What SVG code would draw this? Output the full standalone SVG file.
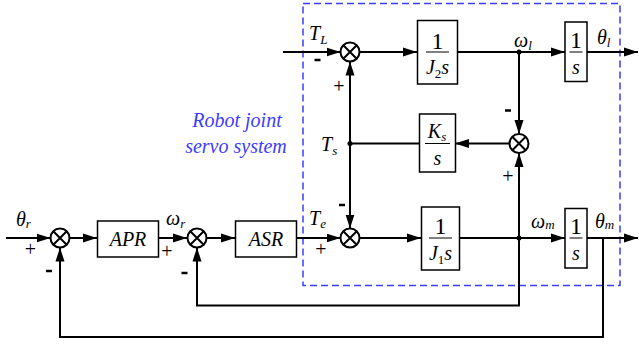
<svg xmlns="http://www.w3.org/2000/svg" width="639" height="344" viewBox="0 0 639 344" font-family="Liberation Serif, Times New Roman, DejaVu Serif, serif">
<defs>
<marker id="arr" markerWidth="14" markerHeight="10" refX="14" refY="5" orient="auto" markerUnits="userSpaceOnUse">
<path d="M0,0.5 L14,5 L0,9.5 Z" fill="#000"/>
</marker>
<style>
.w{stroke:#000;stroke-width:2;fill:none}
.b{stroke:#000;stroke-width:1.5;fill:#fff}
.fl{stroke:#000;stroke-width:1}
.sj circle{fill:#fff;stroke:#000;stroke-width:2}
.sj path{stroke:#000;stroke-width:2}
.lb{font-style:italic;font-size:20px;fill:#000}
.sub{font-size:13px}
.num{font-size:24px;fill:#000}
.pl{font-size:20px;fill:#000}
.mi{stroke:#000;stroke-width:2.5}
.blue{font-style:italic;font-size:20px;fill:#3c3cff}
</style>
</defs>
<rect width="639" height="344" fill="#fff"/>

<rect x="303" y="3.5" width="317" height="282" fill="none" stroke="#3c3cff" stroke-width="1.5" stroke-dasharray="7,4"/>
<text class="blue" x="237" y="127" text-anchor="middle">Robot joint</text>
<text class="blue" x="236" y="153" text-anchor="middle">servo system</text>

<g id="connectors">
<path class="w" d="M283,52 H340.5" marker-end="url(#arr)"/>
<path class="w" d="M359.5,52 H417" marker-end="url(#arr)"/>
<path class="w" d="M458,52 H565" marker-end="url(#arr)"/>
<path class="w" d="M587,52 H638" marker-end="url(#arr)"/>
<path class="w" d="M519,52 V134" marker-end="url(#arr)"/>
<path class="w" d="M509.5,143.5 H455" marker-end="url(#arr)"/>
<path class="w" d="M419,143.5 H350"/>
<path class="w" d="M350,143.5 V61.5" marker-end="url(#arr)"/>
<path class="w" d="M350,143.5 V228.5" marker-end="url(#arr)"/>
<path class="w" d="M6,238 H50.5" marker-end="url(#arr)"/>
<path class="w" d="M69.5,238 H97" marker-end="url(#arr)"/>
<path class="w" d="M159,238 H187" marker-end="url(#arr)"/>
<path class="w" d="M206.5,238 H235" marker-end="url(#arr)"/>
<path class="w" d="M297,238 H340.5" marker-end="url(#arr)"/>
<path class="w" d="M359.5,238 H421" marker-end="url(#arr)"/>
<path class="w" d="M459,238 H565" marker-end="url(#arr)"/>
<path class="w" d="M587,238 H638" marker-end="url(#arr)"/>
<path class="w" d="M519,238 V153" marker-end="url(#arr)"/>
<path class="w" d="M519,238 V305.5 H197 V247.5" marker-end="url(#arr)"/>
<path class="w" d="M603,238 V337 H60 V247.5" marker-end="url(#arr)"/>
<circle cx="519" cy="52" r="2.5" fill="#000"/>
<circle cx="350" cy="143.5" r="2.5" fill="#000"/>
<circle cx="519" cy="238" r="2.5" fill="#000"/>
</g>

<g id="sum1" class="sj"><circle cx="60" cy="238" r="9.5"/><path d="M53.3,231.3 L66.7,244.7 M66.7,231.3 L53.3,244.7"/></g>
<g id="sum2" class="sj"><circle cx="197" cy="238" r="9.5"/><path d="M190.3,231.3 L203.7,244.7 M203.7,231.3 L190.3,244.7"/></g>
<g id="sum3" class="sj"><circle cx="350" cy="238" r="9.5"/><path d="M343.3,231.3 L356.7,244.7 M356.7,231.3 L343.3,244.7"/></g>
<g id="sum4" class="sj"><circle cx="350" cy="52" r="9.5"/><path d="M343.3,45.3 L356.7,58.7 M356.7,45.3 L343.3,58.7"/></g>
<g id="sum5" class="sj"><circle cx="519" cy="143.5" r="9.5"/><path d="M512.3,136.8 L525.7,150.2 M525.7,136.8 L512.3,150.2"/></g>

<g id="APR"><rect class="b" x="97.5" y="221" width="61" height="36"/><text class="lb" x="128" y="246" text-anchor="middle">APR</text></g>
<g id="ASR"><rect class="b" x="235.5" y="221" width="61" height="36"/><text class="lb" x="266" y="246" text-anchor="middle">ASR</text></g>

<g id="J2s"><rect class="b" x="417.5" y="20.5" width="40" height="63.5"/>
<text class="num" x="437.5" y="49" text-anchor="middle">1</text>
<line class="fl" x1="426" y1="52" x2="449" y2="52"/>
<text class="lb" x="437.5" y="74" text-anchor="middle">J<tspan class="sub" font-style="normal" dy="4">2</tspan><tspan dy="-4">s</tspan></text></g>

<g id="Kss"><rect class="b" x="419.5" y="114" width="36" height="58"/>
<text class="lb" x="437" y="138" text-anchor="middle">K<tspan class="sub" dy="3">s</tspan></text>
<line class="fl" x1="425" y1="143.5" x2="450" y2="143.5"/>
<text class="lb" x="437.5" y="165" text-anchor="middle">s</text></g>

<g id="int1"><rect class="b" x="565" y="22" width="22" height="59.5"/>
<text class="num" x="576" y="48" text-anchor="middle">1</text>
<line class="fl" x1="569.5" y1="52" x2="582.5" y2="52"/>
<text class="lb" x="576" y="74" text-anchor="middle">s</text></g>

<g id="J1s"><rect class="b" x="421.5" y="207" width="38" height="63"/>
<text class="num" x="440.5" y="234" text-anchor="middle">1</text>
<line class="fl" x1="429" y1="238" x2="452" y2="238"/>
<text class="lb" x="440.5" y="260" text-anchor="middle">J<tspan class="sub" font-style="normal" dy="4">1</tspan><tspan dy="-4">s</tspan></text></g>

<g id="int2"><rect class="b" x="565" y="208.5" width="22" height="59.5"/>
<text class="num" x="576" y="234" text-anchor="middle">1</text>
<line class="fl" x1="569.5" y1="238" x2="582.5" y2="238"/>
<text class="lb" x="576" y="260" text-anchor="middle">s</text></g>

<g id="labels">
<text class="lb" x="309" y="40">T<tspan class="sub" dy="4">L</tspan></text>
<text class="lb" x="514" y="47">ω<tspan class="sub" dy="3">l</tspan></text>
<text class="lb" x="597" y="44">θ<tspan class="sub" dy="3">l</tspan></text>
<text class="lb" x="321" y="151">T<tspan class="sub" dy="4">s</tspan></text>
<text class="lb" x="309" y="225">T<tspan class="sub" dy="3">e</tspan></text>
<text class="lb" x="531" y="228">ω<tspan class="sub" dy="1">m</tspan></text>
<text class="lb" x="595" y="228">θ<tspan class="sub" dy="1">m</tspan></text>
<text class="lb" x="16" y="226">θ<tspan class="sub" dy="2">r</tspan></text>
<text class="lb" x="166" y="225">ω<tspan class="sub" dy="3">r</tspan></text>
</g>

<g id="signs">
<line class="mi" x1="314.5" y1="60" x2="320.5" y2="60"/>
<text class="pl" x="339" y="93" text-anchor="middle">+</text>
<line class="mi" x1="505" y1="110.5" x2="511" y2="110.5"/>
<text class="pl" x="508" y="183" text-anchor="middle">+</text>
<line class="mi" x1="339" y1="205" x2="345" y2="205"/>
<text class="pl" x="321" y="256" text-anchor="middle">+</text>
<text class="pl" x="30.5" y="256" text-anchor="middle">+</text>
<line class="mi" x1="46" y1="271" x2="52" y2="271"/>
<text class="pl" x="167" y="258" text-anchor="middle">+</text>
<line class="mi" x1="181.5" y1="273" x2="187.5" y2="273"/>
</g>
</svg>
